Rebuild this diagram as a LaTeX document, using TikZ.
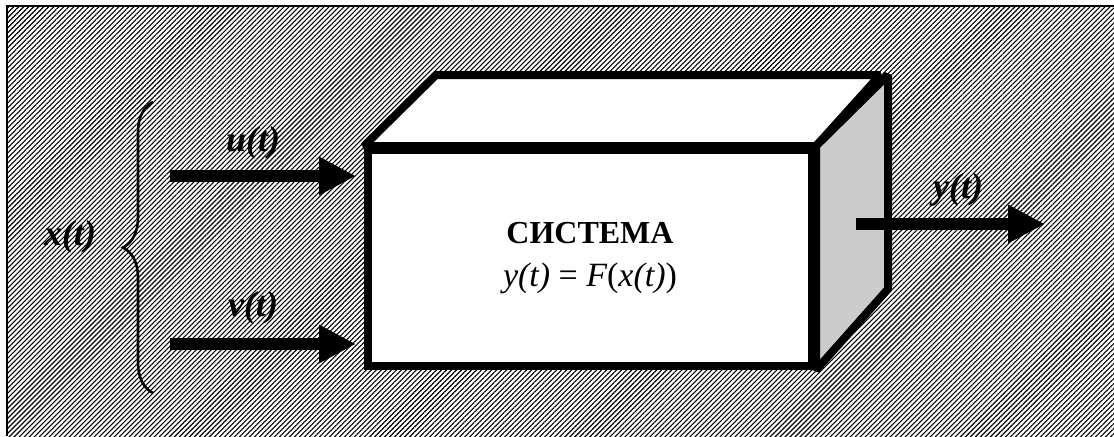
\documentclass[tikz,border=0pt]{standalone}
\usepackage{fontspec}
\setmainfont{Liberation Serif}
\usetikzlibrary{arrows.meta,patterns.meta,decorations.pathreplacing}
\definecolor{sidegray}{RGB}{204,204,204}
\begin{document}
\begin{tikzpicture}[
x=0.5pt, y=-0.5pt,
face/.style={draw, line width=4pt, line join=miter, miter limit=2, fill=white},
sig/.style={line width=6pt, -{Triangle[length=18.5pt,width=18pt]}},
lbl/.style={font=\fontsize{18}{20}\selectfont\bfseries\itshape}
]
\useasboundingbox (0,0) rectangle (1114,436);

% ---------- BACKGROUND ----------
\fill[pattern={Lines[angle=45,distance=1.77pt,line width=0.55pt]}] (7,6) rectangle (1114,436);
\draw[line width=0.6pt] (7,436) -- (7,6) -- (1114,6);

% ---------- SYSTEM BOX ----------
\node[face, minimum width=222pt, minimum height=108pt, align=center,
      font=\fontsize{17}{21.5}\selectfont] (sys) at (590,258)
  {{\fontsize{16}{21.5}\selectfont\bfseries СИСТЕМА}\\
   \itshape y(t)\upshape{} = \itshape F\upshape(\itshape x(t)\upshape)};

% top and side faces
\draw[face] (sys.north west) -- ++(72,-71) -- ++(444,0) -- (sys.north east) -- cycle;
\draw[face, fill=sidegray] (sys.north east) -- ++(72,-71) -- ++(0,214) -- (sys.south east) -- cycle;

% ---------- INPUTS ----------
\coordinate (u0) at (170,176);
\coordinate (v0) at (170,344);
\draw[sig, shorten >=4pt] (u0) -- (u0 -| sys.west);
\draw[sig, shorten >=4pt] (v0) -- (v0 -| sys.west);
\node[lbl] (ulbl) at (253,143) {u(t)};
\node[lbl] (vlbl) at (253,308) {v(t)};

% brace for x(t)
\coordinate (br0) at (153,393);
\coordinate (br1) at (153,102);
\draw[line width=1.3pt, decorate, decoration={brace, amplitude=15pt}] (br0) -- (br1);
\node[lbl] (xlbl) at (70,237) {x(t)};

% ---------- OUTPUT ----------
\coordinate (y0) at (856,224);
\coordinate (y1) at (1045,224);
\draw[sig] (y0) -- (y1);
\node[lbl] (ylbl) at (958,190) {y(t)};

\end{tikzpicture}
\end{document}
